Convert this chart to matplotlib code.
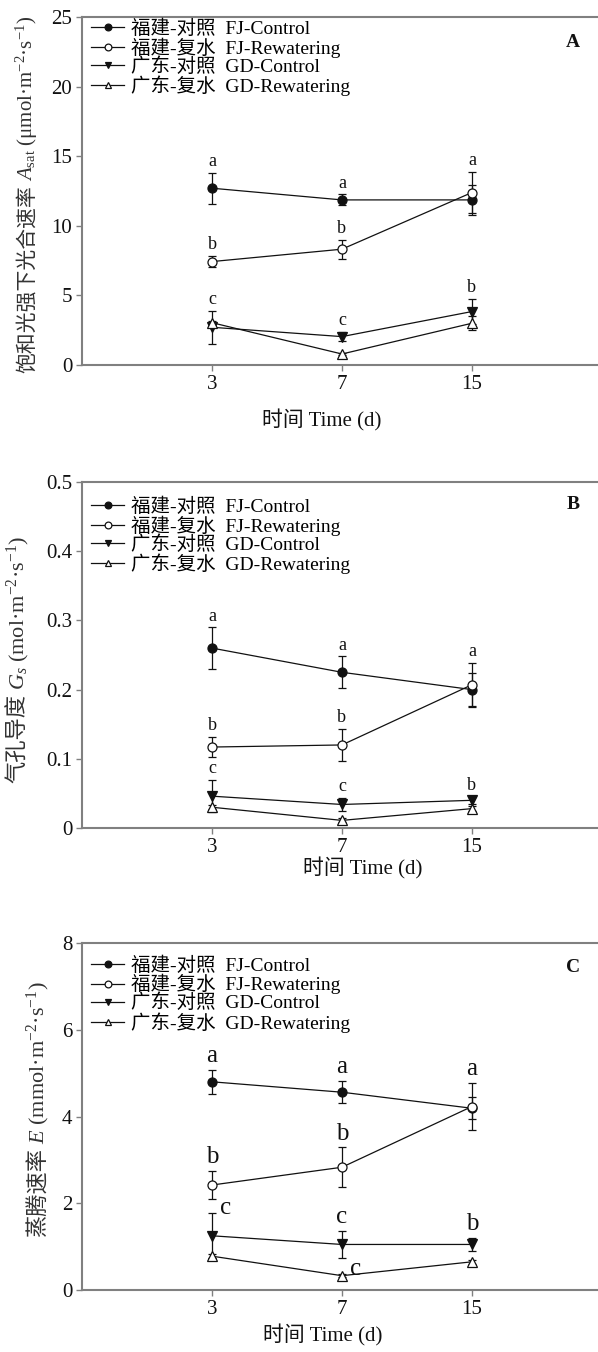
import matplotlib
matplotlib.use('Agg')
import matplotlib.pyplot as plt

plt.rcParams['font.family'] = ['Liberation Serif', 'Noto Sans CJK SC']
plt.rcParams['mathtext.fontset'] = 'custom'
plt.rcParams['mathtext.rm'] = 'Liberation Serif'
plt.rcParams['mathtext.it'] = 'Liberation Serif:italic'

days = ['3', '7', '15']
series = ['福建-对照  FJ-Control', '福建-复水  FJ-Rewatering',
          '广东-对照  GD-Control', '广东-复水  GD-Rewatering']

# A: saturated photosynthetic rate
asat_mean = [[12.7, 11.86, 11.86], [7.43, 8.32, 12.39], [2.71, 2.04, 3.84], [3.04, 0.79, 3.0]]
asat_err = [[1.1, 0.4, 1.07], [0.4, 0.67, 1.5], [1.2, 0.35, 0.9], [0.15, 0.1, 0.5]]
asat_letters = [(0, 0, 'a'), (0, 1, 'b'), (0, 2, 'c'), (1, 0, 'a'), (1, 1, 'b'),
                (1, 2, 'c'), (2, 1, 'a'), (2, 2, 'b')]

# B: stomatal conductance
gs_mean = [[0.26, 0.225, 0.2], [0.117, 0.12, 0.207], [0.046, 0.034, 0.04], [0.03, 0.011, 0.028]]
gs_err = [[0.03, 0.023, 0.024], [0.015, 0.023, 0.032], [0.023, 0.01, 0.005], [0.003, 0.003, 0.004]]
gs_letters = [(0, 0, 'a'), (0, 1, 'b'), (0, 2, 'c'), (1, 0, 'a'), (1, 1, 'b'),
              (1, 2, 'c'), (2, 1, 'a'), (2, 2, 'b')]

# C: transpiration rate
e_mean = [[4.8, 4.56, 4.19], [2.42, 2.83, 4.23], [1.25, 1.05, 1.05], [0.78, 0.33, 0.65]]
e_err = [[0.28, 0.26, 0.25], [0.33, 0.46, 0.54], [0.52, 0.31, 0.15], [0.05, 0.03, 0.05]]
e_letters = [(0, 0, 'a'), (0, 1, 'b'), (0, 2, 'c'), (1, 0, 'a'), (1, 1, 'b'),
             (1, 2, 'c'), (1, 3, 'c'), (2, 1, 'a'), (2, 2, 'b')]
e_side = [(0, 2), (1, 3)]  # letters sitting beside the point

markers = ['o', 'o', 'v', '^']
fills = ['#111111', 'white', '#111111', 'white']
ink = '#111111'
spine_col = '#808080'

W, H = 598, 1352
fig = plt.figure(figsize=(W / 100, H / 100), dpi=100)
xs = list(range(1, len(days) + 1))


def make_axes(top, bottom):
    return fig.add_axes([82 / W, 1 - bottom / H, (W - 82) / W, (bottom - top) / H])


def draw(ax, mean, err, letters, side, ylim, yticks, yticklabels, lsize, tag, legend_y, xl):
    for i in range(len(series)):
        ax.errorbar(xs, mean[i], yerr=err[i], fmt='none', ecolor=ink, elinewidth=0.9,
                    capsize=3, capthick=0.9, zorder=2)
        ax.plot(xs, mean[i], color=ink, lw=0.9, marker=markers[i], ms=6.5,
                mfc=fills[i], mec=ink, mew=0.9, label=series[i], zorder=3)
    for d, s, txt in letters:
        top = mean[s][d] + err[s][d]
        if (d, s) in side:
            ax.annotate(txt, xy=(xs[d], top), xytext=(10, -4), textcoords='offset points',
                        ha='center', va='bottom', fontsize=lsize, color=ink)
        else:
            ax.annotate(txt, xy=(xs[d], top), xytext=(0, 2), textcoords='offset points',
                        ha='center', va='bottom', fontsize=lsize, color=ink)
    ax.set_xlim(0, 3.97)
    ax.set_ylim(*ylim)
    ax.set_xticks(xs)
    ax.set_xticklabels(days)
    ax.set_yticks(yticks)
    ax.set_yticklabels(yticklabels)
    ax.tick_params(direction='out', length=4, width=1, color=spine_col,
                   labelsize=15, labelcolor=ink, pad=3)
    for k in ['top', 'left', 'bottom']:
        ax.spines[k].set_color(spine_col)
        ax.spines[k].set_linewidth(1.5)
    ax.spines['right'].set_visible(False)
    ax.set_xlabel('时间 Time (d)', fontsize=15, color=ink)
    ax.xaxis.label.set_va('center')
    ax.xaxis.set_label_coords(xl[0], xl[1])
    ax.text(0.952, tag[1], tag[0], transform=ax.transAxes, ha='center', va='center',
            fontsize=14, fontweight='bold', color=ink)
    ax.legend(loc='upper left', bbox_to_anchor=(0.018, legend_y), frameon=False,
              fontsize=14, handlelength=1.7, handletextpad=0.35, labelspacing=-0.03,
              borderpad=0, borderaxespad=0, markerscale=0.75)


def ylabel(cjk, rest, x_px, y_px, size):
    t = fig.text(x_px / W, 1 - y_px / H, cjk, rotation=90, ha='center', va='bottom',
                 fontsize=size, family='Noto Sans CJK SC', color='#333333')
    plt.annotate(rest, xy=(0.5, 1), xycoords=t, xytext=(0, 3), textcoords='offset points',
                 rotation=90, ha='center', va='bottom', fontsize=size,
                 family='Liberation Serif', color='#333333', annotation_clip=False)


axA = make_axes(17, 365)
draw(axA, asat_mean, asat_err, asat_letters, [], (0, 25), [0, 5, 10, 15, 20, 25],
     ['0', '5', '10', '15', '20', '25'], 13, ('A', 0.928), 0.992, (0.465, -0.158))
ylabel('饱和光强下光合速率', r'$A_{\mathrm{sat}}$ (μmol·m$^{-2}$·s$^{-1}$)', 27, 373, 15)

axB = make_axes(482, 828)
draw(axB, gs_mean, gs_err, gs_letters, [], (0, 0.5), [0, 0.1, 0.2, 0.3, 0.4, 0.5],
     ['0', '0.1', '0.2', '0.3', '0.4', '0.5'], 13, ('B', 0.934), 0.955, (0.543, -0.116))
ylabel('气孔导度', r'$G_s$ (mol·m$^{-2}$·s$^{-1}$)', 18, 783, 16)

axC = make_axes(943, 1290)
draw(axC, e_mean, e_err, e_letters, e_side, (0, 8), [0, 2, 4, 6, 8],
     ['0', '2', '4', '6', '8'], 18, ('C', 0.928), 0.962, (0.467, -0.13))
ylabel('蒸腾速率', r'$E$ (mmol·m$^{-2}$·s$^{-1}$)', 38, 1237, 16)

fig.savefig('out.png', dpi=100)
